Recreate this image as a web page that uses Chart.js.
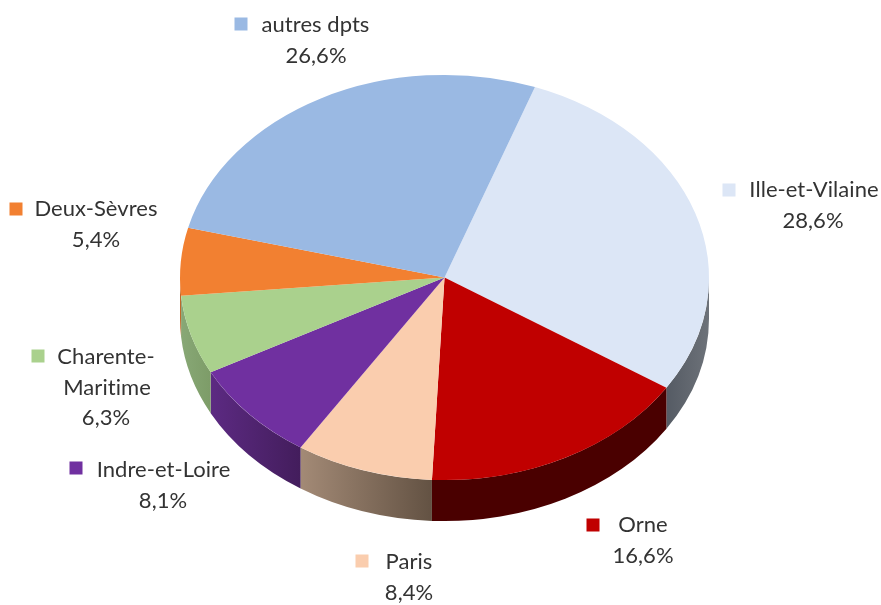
<!DOCTYPE html>
<html>
<head>
<meta charset="utf-8">
<style>html,body{margin:0;padding:0;background:#fff}canvas{display:block}</style>
<script src="https://cdn.jsdelivr.net/npm/chart.js@4"></script>
</head>
<body>
<canvas id="c" width="881" height="605"></canvas>
<script>
const categories = ["Ille-et-Vilaine", "Orne", "Paris", "Indre-et-Loire", "Charente-Maritime", "Deux-Sèvres", "autres dpts"];
const labelLines = [["Ille-et-Vilaine"], ["Orne"], ["Paris"], ["Indre-et-Loire"], ["Charente-", "Maritime"], ["Deux-Sèvres"], ["autres dpts"]];
const values = [28.6, 16.6, 8.4, 8.1, 6.3, 5.4, 26.6];
const topColors = ["#dce6f6", "#c00000", "#facdae", "#7030a0", "#aad18d", "#f28031", "#9ab9e3"];
const sideLeft = ["#555b64", "#4a0000", "#a38a76", "#5c2a82", "#88a876", "#c0682a", "#5d7389"];
const sideRight = ["#6d7279", "#4a0000", "#635243", "#431d5c", "#7d9c68", "#c0682a", "#5d7389"];

// layout of the labels: marker centre, line x centres, first line y
const labelLayout = [
  {mx:729, my:190, xs:[814, 813], y:190},
  {mx:593, my:525, xs:[643, 643], y:525},
  {mx:362, my:561, xs:[409, 409], y:562},
  {mx:76,  my:468, xs:[163.5, 163], y:470},
  {mx:38,  my:356, xs:[106, 107, 106], y:357},
  {mx:16,  my:209, xs:[96, 96], y:209},
  {mx:241, my:24,  xs:[315.5, 316], y:25}
];
const SQUASH = 0.766, DEPTH = 41, LINE = 30.5;
const fmt = v => v.toFixed(1).replace('.', ',') + '%';

const pie3d = {
  id: 'pie3d',
  beforeDatasetsDraw(chart) {
    const ctx = chart.ctx, arcs = chart.getDatasetMeta(0).data;
    const cy0 = arcs[0].y;
    arcs.forEach((a, i) => {
      const s = Math.max(a.startAngle, 0), e = Math.min(a.endAngle, Math.PI);
      if (e <= s) return;
      const rx = a.outerRadius, ry = rx * SQUASH;
      const g = ctx.createLinearGradient(a.x + rx * Math.cos(e), 0, a.x + rx * Math.cos(s), 0);
      g.addColorStop(0, sideLeft[i]);
      g.addColorStop(1, sideRight[i]);
      ctx.beginPath();
      ctx.ellipse(a.x, cy0, rx, ry, 0, s, e);
      ctx.ellipse(a.x, cy0 + DEPTH, rx, ry, 0, e, s, true);
      ctx.closePath();
      ctx.fillStyle = g;
      ctx.fill();
    });
    ctx.save();
    ctx.translate(0, cy0);
    ctx.scale(1, SQUASH);
    ctx.translate(0, -cy0);
  },
  afterDatasetsDraw(chart) { chart.ctx.restore(); },
  afterDraw(chart) {
    const ctx = chart.ctx;
    ctx.save();
    ctx.font = '22px Lato, "Open Sans", sans-serif';
    ctx.letterSpacing = '0.05px';
    ctx.textAlign = 'center';
    ctx.textBaseline = 'middle';
    labelLines.forEach((lines, i) => {
      const L = labelLayout[i];
      ctx.fillStyle = topColors[i];
      ctx.fillRect(L.mx - 6.5, L.my - 6.5, 13, 13);
      ctx.fillStyle = '#333333';
      lines.concat([fmt(values[i])]).forEach((t, k) => {
        ctx.fillText(t, L.xs[k], L.y + k * LINE);
      });
    });
    ctx.restore();
  }
};

new Chart(document.getElementById('c'), {
  type: 'pie',
  data: {
    labels: categories,
    datasets: [{ data: values, backgroundColor: topColors, borderWidth: 0, hoverOffset: 0 }]
  },
  options: {
    responsive: false,
    animation: false,
    rotation: 20,
    layout: { padding: { left: 180, right: 172, top: 13, bottom: 63 } },
    plugins: { legend: { display: false }, tooltip: { enabled: false } },
    events: []
  },
  plugins: [pie3d]
});
</script>
</body>
</html>
